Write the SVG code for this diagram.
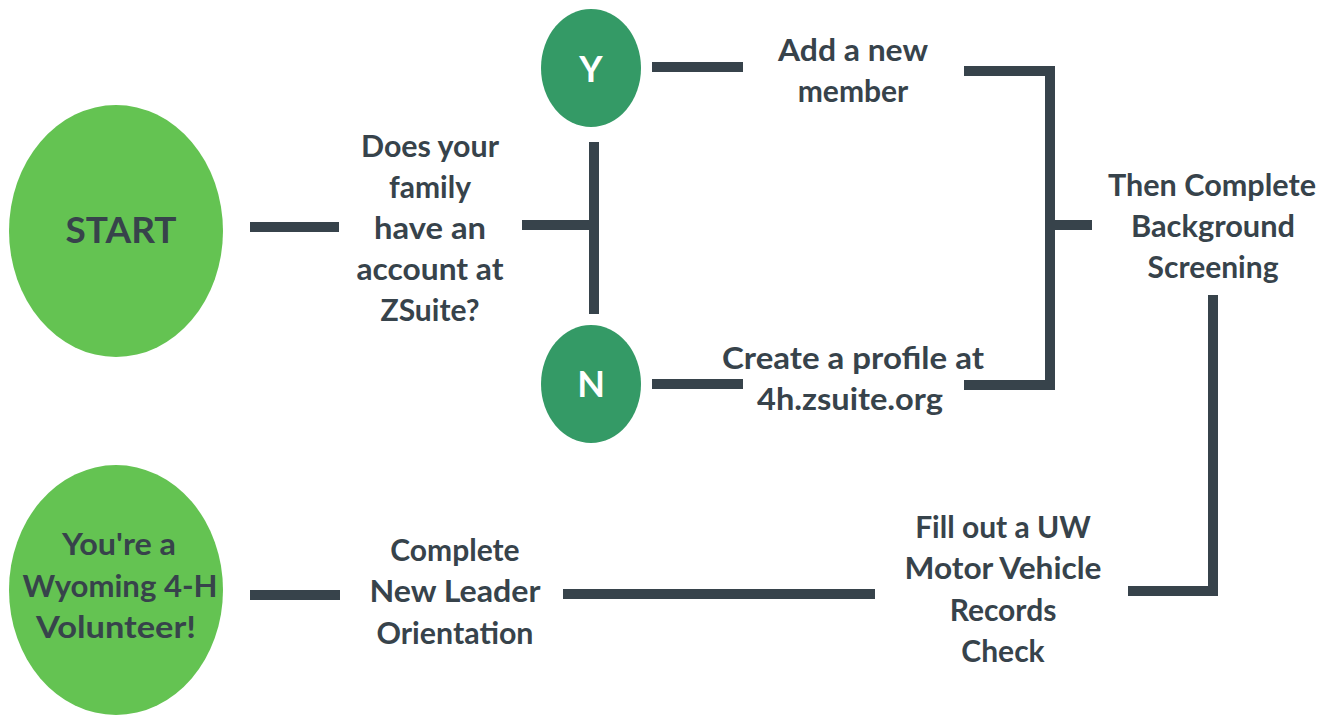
<svg xmlns="http://www.w3.org/2000/svg" width="1332" height="715" viewBox="0 0 1332 715">
<style>
.lt{fill:#64c352}
.dk{fill:#349a66}
.t{font-family:Lato,"Open Sans","Liberation Sans",sans-serif;font-weight:700;font-size:30px;fill:#37434b;text-anchor:middle}
.w{fill:#ffffff;font-size:36px}
.c{fill:none;stroke:#37434b;stroke-width:10;stroke-linecap:butt;stroke-linejoin:miter}
</style>
<rect width="1332" height="715" fill="#ffffff"/>
<g id="connectors">
<line class="c" x1="250" y1="227" x2="339" y2="227"/>
<line class="c" x1="522" y1="225" x2="598" y2="225"/>
<line class="c" x1="594" y1="142" x2="594" y2="314"/>
<line class="c" x1="652" y1="67" x2="743" y2="67"/>
<line class="c" x1="652" y1="384" x2="743" y2="384"/>
<polyline class="c" points="964,71 1050,71 1050,385 964,385"/>
<line class="c" x1="1050" y1="225" x2="1092" y2="225"/>
<polyline class="c" points="1213,295 1213,591 1128,591"/>
<line class="c" x1="563" y1="594" x2="875" y2="594"/>
<line class="c" x1="250" y1="595" x2="340" y2="595"/>
</g>
<g id="start">
<ellipse class="lt" cx="116" cy="231" rx="107" ry="126"/>
<text class="t" x="121" y="243" style="font-size:37px">START</text>
</g>
<g id="question">
<text class="t" x="430" y="157" textLength="138" lengthAdjust="spacingAndGlyphs">Does your</text>
<text class="t" x="430" y="198">family</text>
<text class="t" x="430" y="239" textLength="112" lengthAdjust="spacingAndGlyphs">have an</text>
<text class="t" x="430" y="280" textLength="147" lengthAdjust="spacingAndGlyphs">account at</text>
<text class="t" x="430" y="321">ZSuite?</text>
</g>
<g id="yes">
<ellipse class="dk" cx="591" cy="68" rx="50" ry="59"/>
<text class="t w" x="591" y="82">Y</text>
</g>
<g id="no">
<ellipse class="dk" cx="591" cy="384" rx="50" ry="59"/>
<text class="t w" x="591" y="397">N</text>
</g>
<g id="add-member">
<text class="t" x="853" y="61" textLength="150" lengthAdjust="spacingAndGlyphs">Add a new</text>
<text class="t" x="853" y="102">member</text>
</g>
<g id="create-profile">
<text class="t" x="853" y="369" textLength="262" lengthAdjust="spacingAndGlyphs">Create a profile at</text>
<text class="t" x="850" y="410" textLength="186" lengthAdjust="spacingAndGlyphs">4h.zsuite.org</text>
</g>
<g id="background">
<text class="t" x="1212" y="196" textLength="208" lengthAdjust="spacingAndGlyphs">Then Complete</text>
<text class="t" x="1213" y="237" textLength="164" lengthAdjust="spacingAndGlyphs">Background</text>
<text class="t" x="1213" y="278">Screening</text>
</g>
<g id="mvr">
<text class="t" x="1003" y="538">Fill out a UW</text>
<text class="t" x="1003" y="579" textLength="197" lengthAdjust="spacingAndGlyphs">Motor Vehicle</text>
<text class="t" x="1003" y="621">Records</text>
<text class="t" x="1003" y="662">Check</text>
</g>
<g id="orientation">
<text class="t" x="455" y="561">Complete</text>
<text class="t" x="455" y="602" textLength="171" lengthAdjust="spacingAndGlyphs">New Leader</text>
<text class="t" x="455" y="644" textLength="157" lengthAdjust="spacingAndGlyphs">Orientation</text>
</g>
<g id="volunteer">
<ellipse class="lt" cx="116" cy="590" rx="107" ry="125"/>
<text class="t" x="119" y="555" textLength="114" lengthAdjust="spacingAndGlyphs">You're a</text>
<text class="t" x="120" y="597" textLength="195" lengthAdjust="spacingAndGlyphs">Wyoming 4-H</text>
<text class="t" x="116" y="638" textLength="160" lengthAdjust="spacingAndGlyphs">Volunteer!</text>
</g>
</svg>
